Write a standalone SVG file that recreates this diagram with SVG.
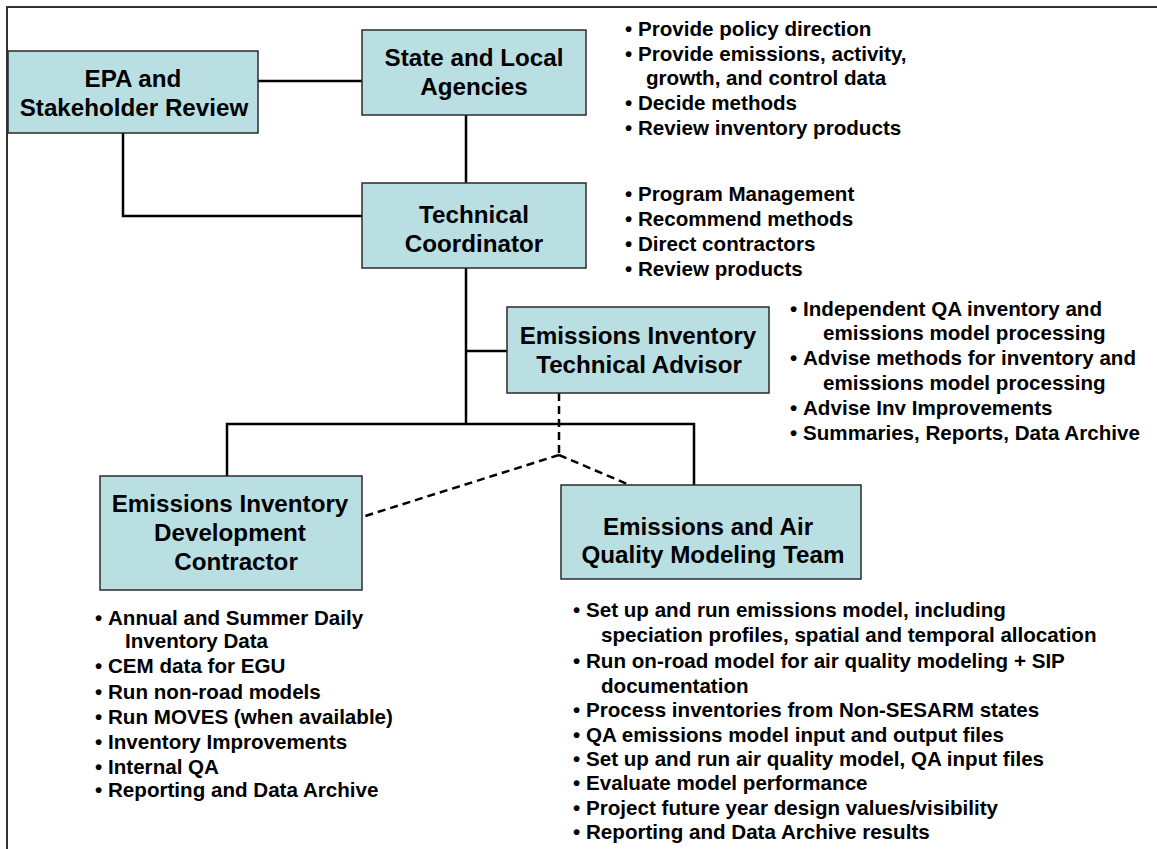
<svg xmlns="http://www.w3.org/2000/svg" width="1157" height="849" viewBox="0 0 1157 849">
<style>
.box{fill:#BADFE2;stroke:#2b2b2b;stroke-width:1.5}
.bt{font-family:"Liberation Sans",Arial,sans-serif;font-weight:bold;font-size:24.2px;fill:#000;text-anchor:middle}
.li{font-family:"Liberation Sans",Arial,sans-serif;font-weight:bold;font-size:20.6px;fill:#000}
.ln{fill:none;stroke:#000;stroke-width:2.5}
.dl{fill:none;stroke:#000;stroke-width:2.5;stroke-dasharray:8 5}
.frame{fill:none;stroke:#333;stroke-width:2}
</style>
<rect width="1157" height="849" fill="#fff"/>
<path class="frame" d="M7,849 V7 H1157"/>
<g id="connectors">
<path class="ln" d="M258,81 H362"/>
<path class="ln" d="M123,133 V216 H362"/>
<path class="ln" d="M466,115 V183"/>
<path class="ln" d="M466,268 V424"/>
<path class="ln" d="M466,351 H507"/>
<path class="ln" d="M227,476 V424 H694 V485"/>
<path class="dl" d="M559,393 V455"/>
<path class="dl" d="M559,455 L362,517"/>
<path class="dl" d="M559,455 L632,486"/>
</g>
<g id="epa">
<rect class="box" x="8" y="51" width="250" height="82"/>
<text class="bt" x="133" y="87">EPA and</text>
<text class="bt" x="134" y="116">Stakeholder Review</text>
</g>
<g id="state">
<rect class="box" x="362" y="30" width="224" height="85"/>
<text class="bt" x="474" y="66">State and Local</text>
<text class="bt" x="474" y="95">Agencies</text>
</g>
<g id="tc">
<rect class="box" x="362" y="183" width="224" height="85"/>
<text class="bt" x="474" y="223">Technical</text>
<text class="bt" x="474" y="252">Coordinator</text>
</g>
<g id="eita">
<rect class="box" x="507" y="307" width="262" height="86"/>
<text class="bt" x="638" y="344">Emissions Inventory</text>
<text class="bt" x="639" y="373">Technical Advisor</text>
</g>
<g id="eidc">
<rect class="box" x="100" y="476" width="262" height="114"/>
<text class="bt" x="230" y="512">Emissions Inventory</text>
<text class="bt" x="230" y="541">Development</text>
<text class="bt" x="236" y="570">Contractor</text>
</g>
<g id="eaq">
<rect class="box" x="561" y="485" width="300" height="94"/>
<text class="bt" x="708" y="535">Emissions and Air</text>
<text class="bt" x="713" y="563">Quality Modeling Team</text>
</g>
<g id="state-notes" class="li">
<text x="625" y="36">•</text><text x="638" y="36">Provide policy direction</text>
<text x="625" y="61">•</text><text x="638" y="61">Provide emissions, activity,</text>
<text x="646" y="85">growth, and control data</text>
<text x="625" y="110">•</text><text x="638" y="110">Decide methods</text>
<text x="625" y="135">•</text><text x="638" y="135">Review inventory products</text>
</g>
<g id="tc-notes" class="li">
<text x="625" y="201">•</text><text x="638" y="201">Program Management</text>
<text x="625" y="226">•</text><text x="638" y="226">Recommend methods</text>
<text x="625" y="251">•</text><text x="638" y="251">Direct contractors</text>
<text x="625" y="276">•</text><text x="638" y="276">Review products</text>
</g>
<g id="eita-notes" class="li">
<text x="790" y="316">•</text><text x="803" y="316">Independent QA inventory and</text>
<text x="823" y="340">emissions model processing</text>
<text x="790" y="365">•</text><text x="803" y="365">Advise methods for inventory and</text>
<text x="823" y="390">emissions model processing</text>
<text x="790" y="415">•</text><text x="803" y="415">Advise Inv Improvements</text>
<text x="790" y="440">•</text><text x="803" y="440">Summaries, Reports, Data Archive</text>
</g>
<g id="eidc-notes" class="li">
<text x="95" y="625">•</text><text x="108" y="625">Annual and Summer Daily</text>
<text x="125" y="648">Inventory Data</text>
<text x="95" y="673">•</text><text x="108" y="673">CEM data for EGU</text>
<text x="95" y="699">•</text><text x="108" y="699">Run non-road models</text>
<text x="95" y="724">•</text><text x="108" y="724">Run MOVES (when available)</text>
<text x="95" y="749">•</text><text x="108" y="749">Inventory Improvements</text>
<text x="95" y="774">•</text><text x="108" y="774">Internal QA</text>
<text x="95" y="797">•</text><text x="108" y="797">Reporting and Data Archive</text>
</g>
<g id="eaq-notes" class="li">
<text x="573" y="617">•</text><text x="586" y="617">Set up and run emissions model, including</text>
<text x="601" y="642">speciation profiles, spatial and temporal allocation</text>
<text x="573" y="668">•</text><text x="586" y="668">Run on-road model for air quality modeling + SIP</text>
<text x="601" y="693">documentation</text>
<text x="573" y="717">•</text><text x="586" y="717">Process inventories from Non-SESARM states</text>
<text x="573" y="742">•</text><text x="586" y="742">QA emissions model input and output files</text>
<text x="573" y="766">•</text><text x="586" y="766">Set up and run air quality model, QA input files</text>
<text x="573" y="790">•</text><text x="586" y="790">Evaluate model performance</text>
<text x="573" y="815">•</text><text x="586" y="815">Project future year design values/visibility</text>
<text x="573" y="839">•</text><text x="586" y="839">Reporting and Data Archive results</text>
</g>
</svg>
